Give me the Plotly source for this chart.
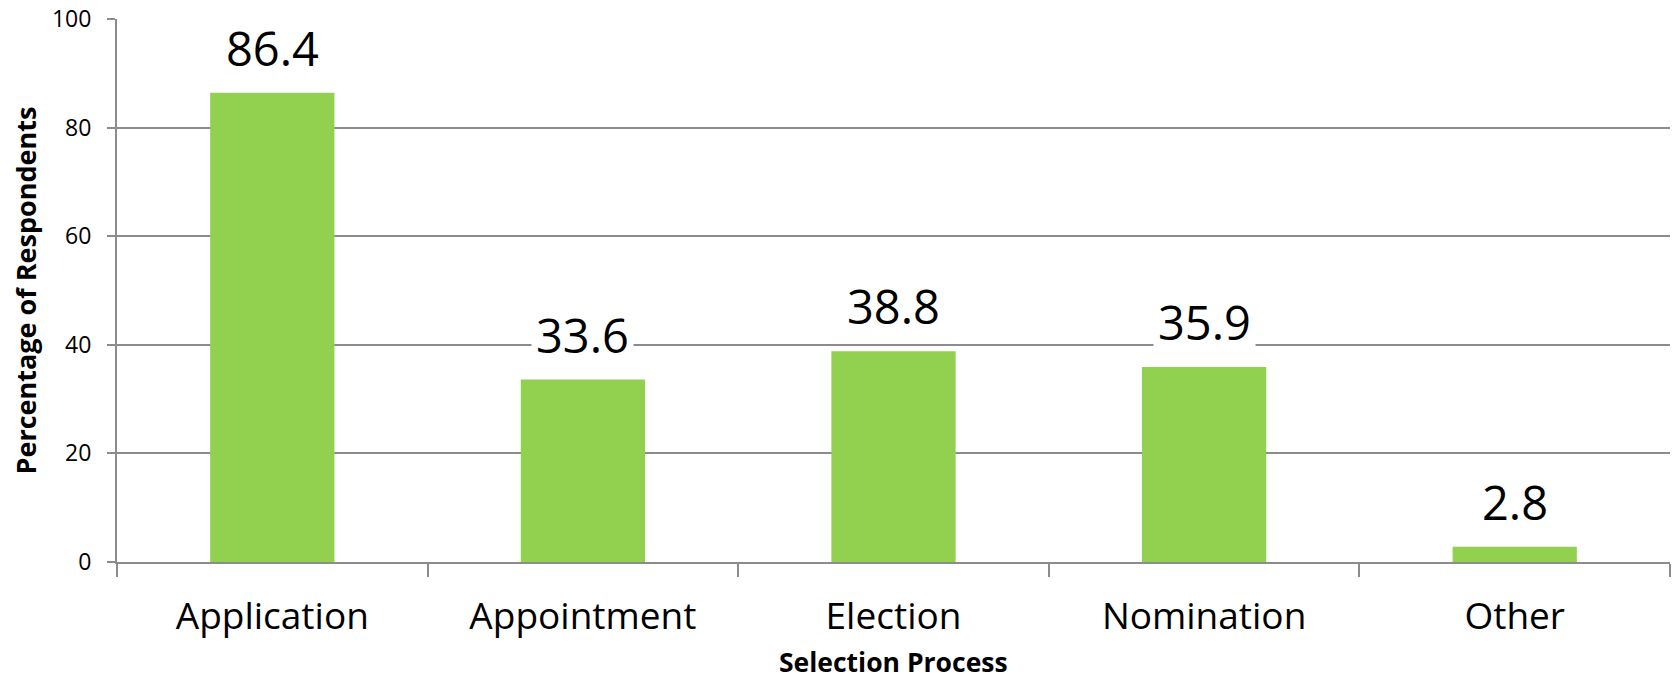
import plotly.graph_objects as go

# Survey results: how respondents were selected
categories = ["Application", "Appointment", "Election", "Nomination", "Other"]
percentages = [86.4, 33.6, 38.8, 35.9, 2.8]
y_ticks = [0, 20, 40, 60, 80, 100]

BAR_COLOR = "#92D050"
AXIS_GRAY = "#8C8C8C"
FONT = "Open Sans"

fig = go.Figure(
    go.Bar(
        x=categories,
        y=percentages,
        marker=dict(color=BAR_COLOR, line=dict(width=0)),
        width=0.4,
        hoverinfo="x+y",
    )
)

# value labels with a white box that breaks the gridlines behind them
for cat, val in zip(categories, percentages):
    fig.add_annotation(
        x=cat, y=val, text=f"{val}",
        showarrow=False, yanchor="middle", yshift=45,
        font=dict(family=FONT, size=47, color="black"),
        bgcolor="white", borderpad=4,
    )

# axis titles, placed in paper coordinates so the plot area keeps its size
fig.add_annotation(
    text="<b>Selection Process</b>", xref="paper", yref="paper",
    x=0.5, y=-0.2195, xanchor="center", yanchor="bottom", showarrow=False,
    font=dict(family=FONT, size=26.5, color="black"), borderpad=0,
)
fig.add_annotation(
    text="<b>Percentage of Respondents</b>", xref="paper", yref="paper",
    x=-0.0586, y=0.5, xanchor="center", yanchor="middle", textangle=-90, showarrow=False,
    font=dict(family=FONT, size=27, color="black"),
)

fig.update_layout(
    width=1675, height=682,
    margin=dict(l=117, r=5, t=19, b=120),
    paper_bgcolor="white", plot_bgcolor="white",
    showlegend=False,
    bargap=0.6,
)

fig.update_xaxes(
    automargin=False,
    showline=True, linecolor=AXIS_GRAY, linewidth=2,
    ticks="outside", tickson="boundaries", ticklen=13, tickwidth=2, tickcolor=AXIS_GRAY,
    showgrid=False,
    tickfont=dict(family=FONT, size=37, color="black"),
    ticklabelstandoff=21,
)

fig.update_yaxes(
    automargin=False,
    range=[0, 100], tickvals=y_ticks,
    showline=True, linecolor=AXIS_GRAY, linewidth=2,
    ticks="outside", ticklen=8, tickwidth=2, tickcolor=AXIS_GRAY,
    showgrid=True, gridcolor=AXIS_GRAY, gridwidth=2,
    zeroline=False,
    tickfont=dict(family=FONT, size=23, color="black"),
    ticklabelstandoff=11,
)

fig.write_html("out.html")
